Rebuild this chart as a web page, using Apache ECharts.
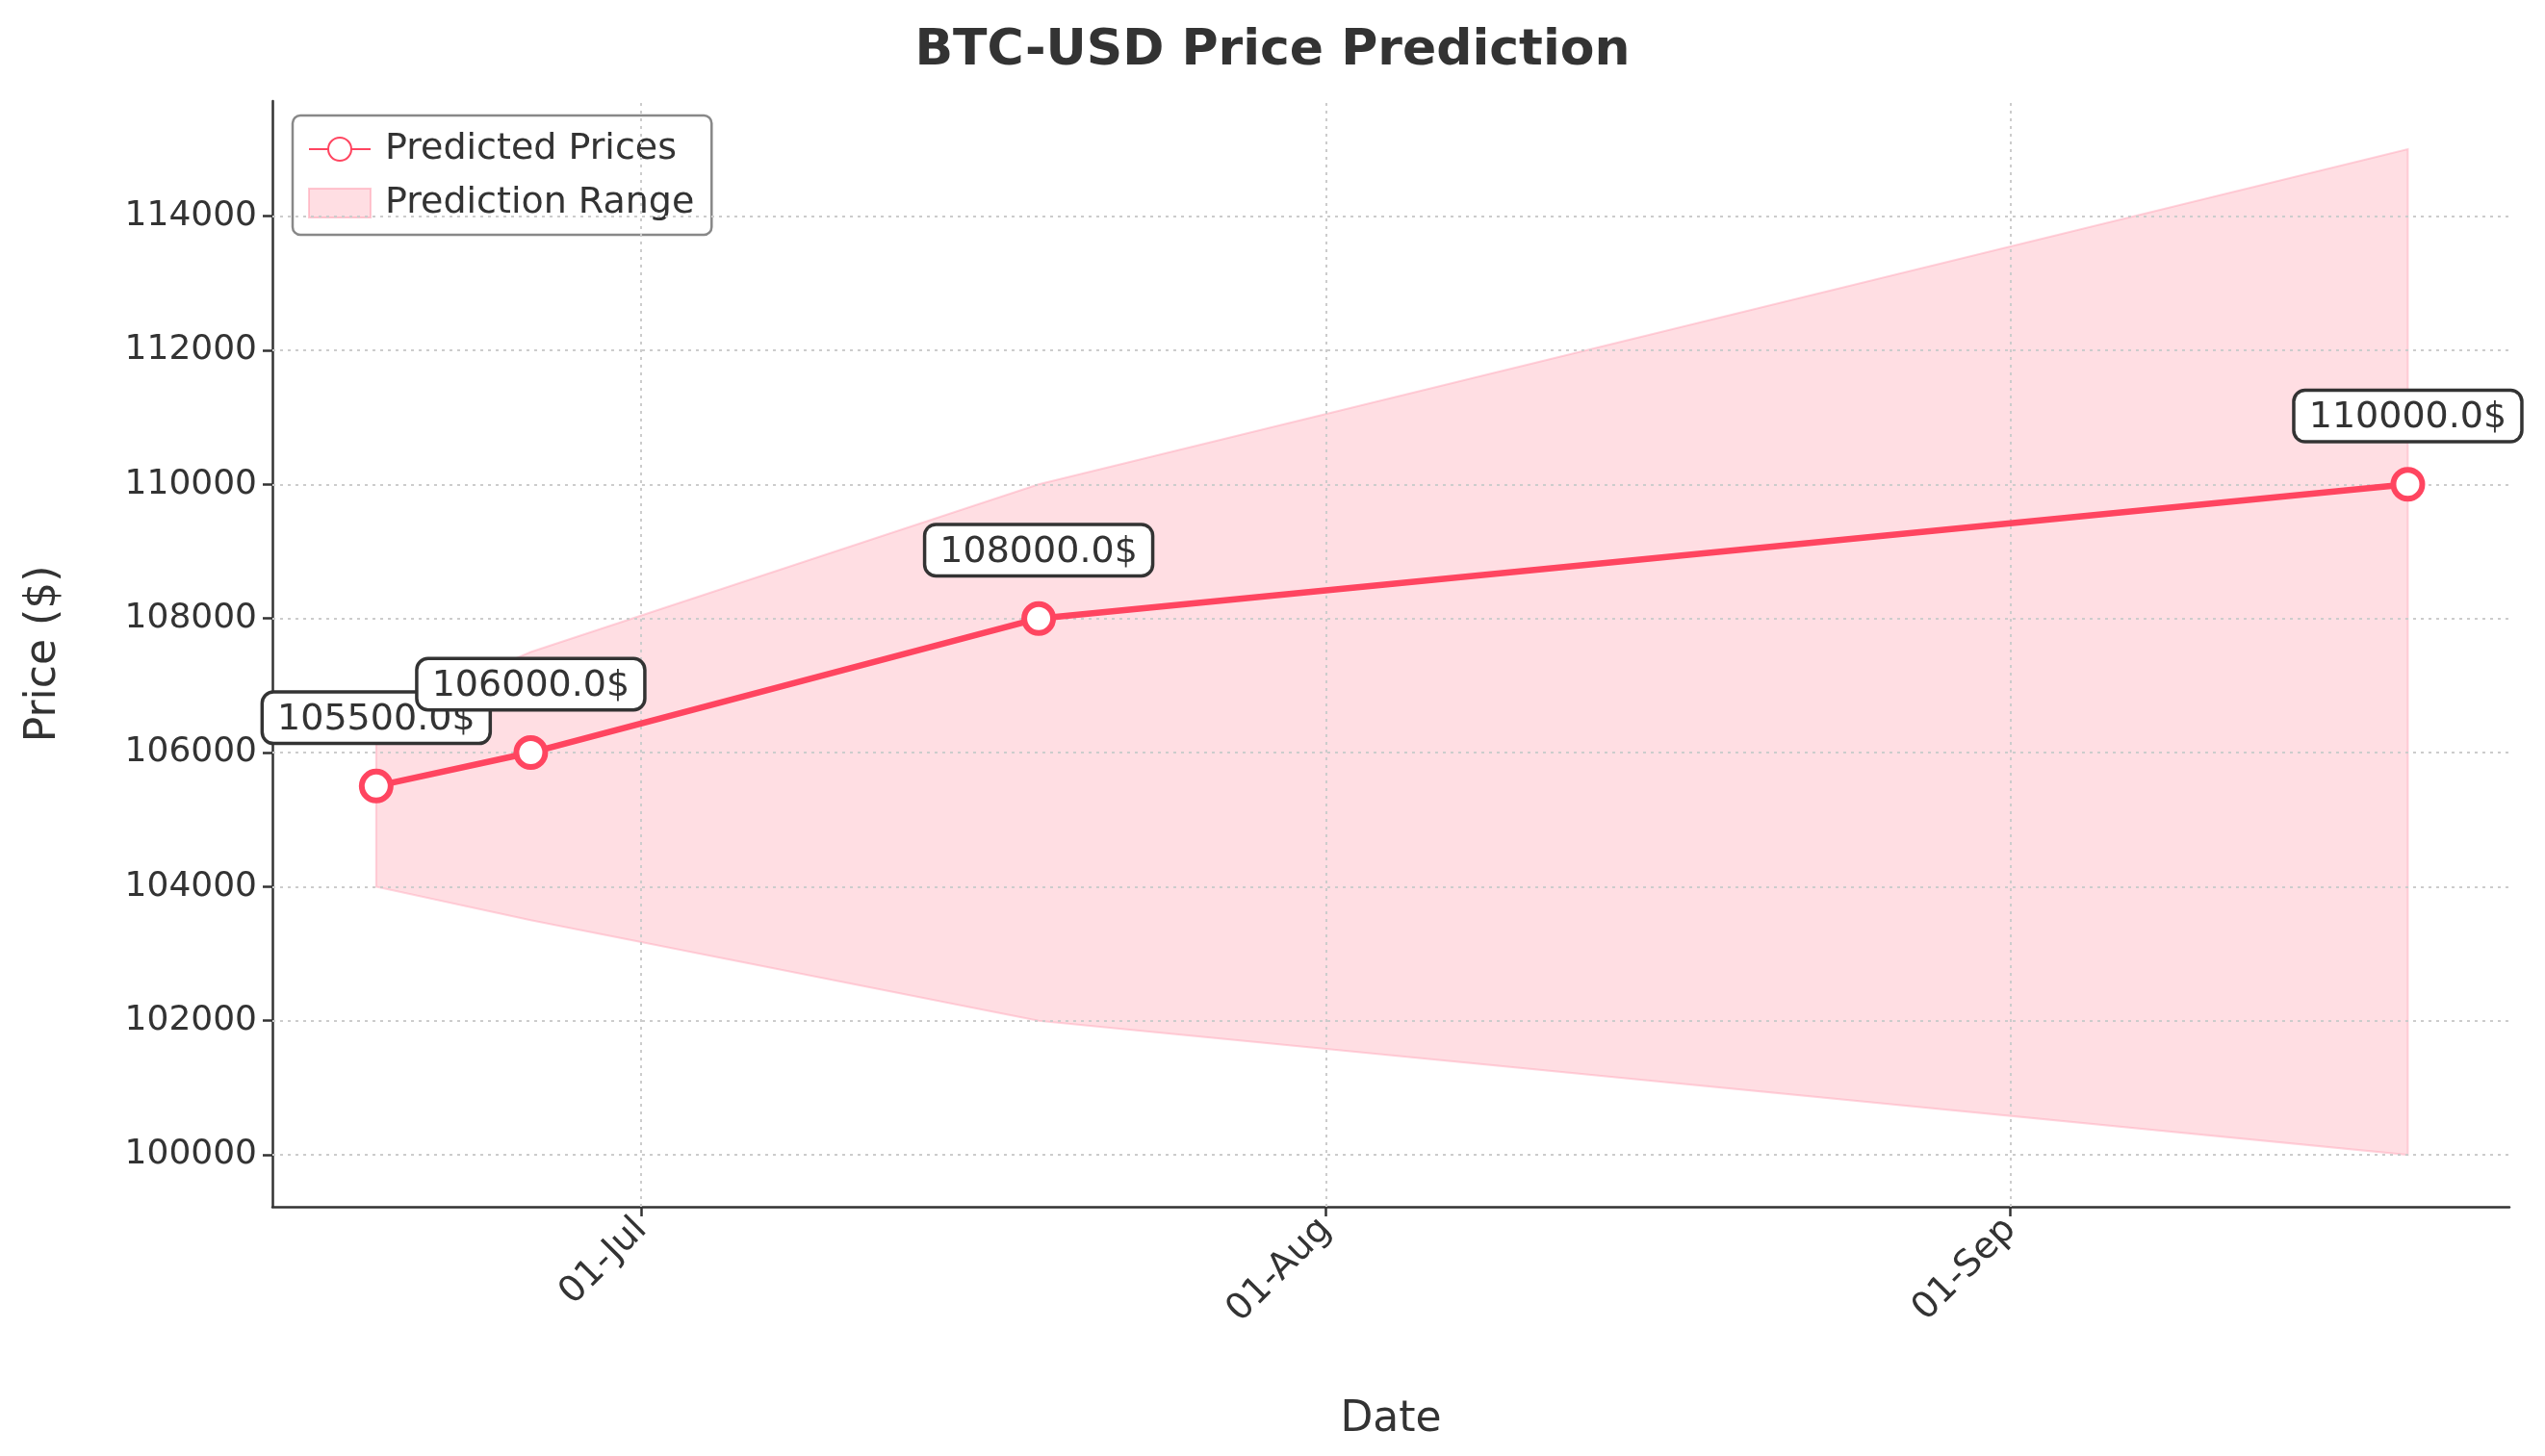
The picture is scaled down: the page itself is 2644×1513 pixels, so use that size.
<!DOCTYPE html><html><head><meta charset="utf-8"><script src="https://cdn.jsdelivr.net/npm/echarts@6/dist/echarts.min.js"></script>
<style>html,body{margin:0;padding:0;background:#fff}#c{width:2644px;height:1513px}</style></head><body><div id="c"></div><script>
// day numbers counted from 01-Jun
const dates = [18, 25, 48, 110];
const predicted = [105500, 106000, 108000, 110000];
const lower = [104000, 103500, 102000, 100000];
const upper = [106500, 107500, 110000, 115000];
const monthTicks = [30, 61, 92];
const monthLabels = {30: '01-Jul', 61: '01-Aug', 92: '01-Sep'};
const yTicks = [100000, 102000, 104000, 106000, 108000, 110000, 112000, 114000];

const F = 'DejaVu Sans';
const C = '#ff4560';
const chart = echarts.init(document.getElementById('c'));
const gl = {color: '#cccccc', type: [3, 5], width: 2};
chart.setOption({
  animation: false,
  title: {text: 'BTC-USD Price Prediction', left: 'center', top: 22,
    textStyle: {fontFamily: F, fontSize: 52, fontWeight: 'bold', color: '#333'}},
  grid: {left: 283, right: 37, top: 105, bottom: 259},
  legend: {left: 304, top: 120, orient: 'vertical', itemGap: 18, padding: [16, 18, 14, 16],
    borderColor: '#888', borderWidth: 2.5, borderRadius: 8, backgroundColor: '#fff',
    itemWidth: 64, itemHeight: 30, textStyle: {fontFamily: F, fontSize: 38, color: '#333', padding: [0, 0, 0, 10]},
    data: [{name: 'Predicted Prices'}, {name: 'Prediction Range', icon: 'rect', itemStyle: {color: 'rgba(255,182,193,0.45)', borderColor: 'rgba(255,150,170,0.5)', borderWidth: 2}}]},
  xAxis: {type: 'value', min: 13.3, max: 114.6, name: 'Date', nameLocation: 'middle', nameGap: 200,
    nameTextStyle: {fontFamily: F, fontSize: 44, color: '#333'},
    axisLine: {lineStyle: {color: '#333', width: 2.5}},
    axisTick: {show: true, customValues: monthTicks, length: 10, lineStyle: {color: '#333', width: 2.5}},
    axisLabel: {customValues: monthTicks, rotate: 45, fontFamily: F, fontSize: 38, color: '#333', margin: 18,
      formatter: v => monthLabels[Math.round(v)] || ''},
    splitLine: {show: false}},
  yAxis: {type: 'value', min: 99226, max: 115717, name: 'Price ($)', nameLocation: 'middle', nameGap: 215,
    nameTextStyle: {fontFamily: F, fontSize: 44, color: '#333'},
    axisLine: {show: true, lineStyle: {color: '#333', width: 2.5}},
    axisTick: {show: true, customValues: yTicks, length: 10, lineStyle: {color: '#333', width: 2.5}},
    axisLabel: {customValues: yTicks, fontFamily: F, fontSize: 36, color: '#333', margin: 16, formatter: v => String(v)},
    splitLine: {show: false}},
  series: [
    {name: 'hgrid', type: 'line', data: [], silent: true,
      markLine: {symbol: 'none', silent: true, label: {show: false}, lineStyle: gl,
        data: yTicks.map(v => ({yAxis: v})).concat(monthTicks.map(v => ({xAxis: v})))}},
    {name: 'Prediction Range', type: 'custom', silent: true, z: 2,
      itemStyle: {color: 'rgba(255,182,193,0.45)'},
      data: [0],
      renderItem: (params, api) => {
        const pts = [];
        for (let i = 0; i < dates.length; i++) pts.push(api.coord([dates[i], upper[i]]));
        for (let i = dates.length - 1; i >= 0; i--) pts.push(api.coord([dates[i], lower[i]]));
        return {type: 'polygon', shape: {points: pts},
          style: {fill: 'rgba(255,182,193,0.45)', stroke: 'rgba(255,160,180,0.45)', lineWidth: 2}};
      }},
    {name: 'Predicted Prices', type: 'line', symbol: 'circle', symbolSize: 30, z: 5,
      lineStyle: {color: C, width: 6.5}, itemStyle: {color: '#fff', borderColor: C, borderWidth: 6},
      data: dates.map((d, i) => [d, predicted[i]]),
      label: {show: true, position: 'top', distance: 28, formatter: p => p.value[1].toFixed(1) + '$',
        fontFamily: F, fontSize: 38, color: '#333', backgroundColor: '#fff', borderColor: '#333',
        borderWidth: 3.5, borderRadius: 10, padding: [8, 14, 4, 14]}}
  ]
});
</script></body></html>
